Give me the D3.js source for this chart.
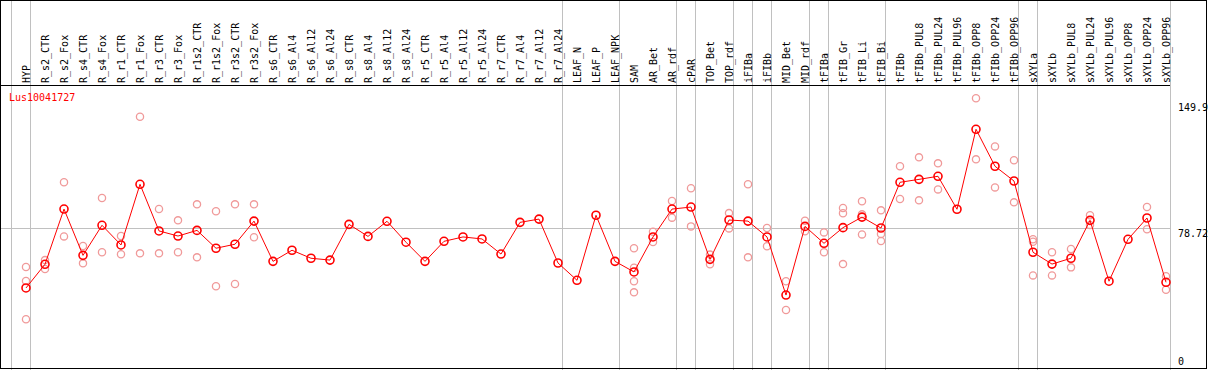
<!DOCTYPE html>
<html>
<head>
<meta charset="utf-8">
<script src="https://cdn.jsdelivr.net/npm/d3@7/dist/d3.min.js"></script>
<style>
    body { margin: 0; background: #fff; }
    #chart-container { width: 1209px; height: 370px; }
</style>
</head>
<body>
<div id="chart-container"></div>
<script>
const geneName = "Lus10041727";

const samples = [
    "HYP", "R_s2_CTR", "R_s2_Fox", "R_s4_CTR", "R_s4_Fox", "R_r1_CTR", "R_r1_Fox",
    "R_r3_CTR", "R_r3_Fox", "R_r1s2_CTR", "R_r1s2_Fox", "R_r3s2_CTR", "R_r3s2_Fox",
    "R_s6_CTR", "R_s6_Al4", "R_s6_Al12", "R_s6_Al24", "R_s8_CTR", "R_s8_Al4", "R_s8_Al12",
    "R_s8_Al24", "R_r5_CTR", "R_r5_Al4", "R_r5_Al12", "R_r5_Al24", "R_r7_CTR", "R_r7_Al4",
    "R_r7_Al12", "R_r7_Al24", "LEAF_N", "LEAF_P", "LEAF_NPK", "SAM", "AR_Bet", "AR_rdf",
    "cPAR", "TOP_Bet", "TOP_rdf", "iFIBa", "iFIBb", "MID_Bet", "MID_rdf", "tFIBa",
    "tFIB_Gr", "tFIB_Li", "tFIB_Bi", "tFIBb", "tFIBb_PUL8", "tFIBb_PUL24", "tFIBb_PUL96",
    "tFIBb_OPP8", "tFIBb_OPP24", "tFIBb_OPP96", "sXYLa", "sXYLb", "sXYLb_PUL8",
    "sXYLb_PUL24", "sXYLb_PUL96", "sXYLb_OPP8", "sXYLb_OPP24", "sXYLb_OPP96"
];

// mean expression per sample
const means = [
    45.8, 58.8, 89.1, 63.7, 80.2, 69.4, 102.7, 77.1, 74.3, 77.4, 67.6, 69.8, 82.5,
    60.4, 66.5, 62.1, 61.1, 80.7, 74.1, 82.4, 70.9, 60.4, 71.4, 73.8, 72.7, 64.4, 81.8,
    83.6, 59.5, 50.0, 85.7, 60.4, 54.6, 73.8, 89.1, 90.2, 61.5, 83.1, 82.5, 73.8, 41.9,
    79.6, 70.3, 78.9, 84.7, 78.7, 103.8, 105.4, 107.1, 89.0, 132.9, 112.6, 104.5, 65.4,
    58.9, 62.1, 82.9, 49.5, 72.5, 84.2, 48.9
];

// replicate values per sample
const replicates = [
    [57.3, 49.6, 28.6], [61.1, 56.2], [103.8, 74.1], [68.8, 59.3], [95.2, 65.4],
    [74.3, 64.3], [139.8, 64.8], [89.1, 64.8], [82.9, 65.4], [91.7, 62.6], [87.9, 46.7],
    [91.7, 48.0], [91.7, 73.6],
    [], [], [], [], [], [], [], [], [], [], [], [], [], [], [], [], [], [], [],
    [67.6, 56.9, 49.5, 43.4], [76.7, 71.0], [93.5, 84.4], [100.5, 79.6], [64.1, 58.8],
    [86.9, 78.5], [102.7, 62.6], [78.7, 68.7], [49.5, 33.7], [82.7, 76.9], [76.3, 65.4],
    [89.7, 86.8, 58.9], [93.4, 86.2, 75.2], [88.4, 75.4, 71.6], [112.6, 94.6],
    [117.5, 93.9], [114.2, 99.9], [], [149.9, 116.4], [123.5, 101.0], [115.9, 92.8],
    [72.5, 71.2, 52.7], [65.4, 52.7], [67.2, 57.1], [85.7, 80.4], [], [], [90.2, 78.0],
    [52.2, 44.8]
];

// last sample of each tissue group
const groupEnds = ["HYP", "R_r7_Al24", "LEAF_NPK", "AR_rdf", "cPAR", "TOP_rdf", "iFIBa",
    "iFIBb", "MID_rdf", "tFIBa", "tFIB_Bi", "tFIBb_OPP96", "sXYLa", "sXYLb_OPP96"];

const yTicks = [149.9, 78.72, 0];
const yMax = 149.9;

const width = 1209;
const height = 370;
const font = "'DejaVu Sans Mono', monospace";

const svg = d3
    .select("#chart-container")
    .append("svg")
    .attr("width", width)
    .attr("height", height);

const x = d3.scalePoint().domain(samples).range([26, 1166]);
const step = x.step();
const y = d3.scaleLinear().domain([0, yMax]).range([371.4, 98.3]);
const plotRight = x(samples[samples.length - 1]) + 4;

// vertical group separators
const sepX = [x(samples[0]) - step + 4].concat(groupEnds.map(d => x(d) + 4));
svg.append("g")
    .selectAll("line")
    .data(sepX)
    .enter()
    .append("line")
    .attr("x1", d => Math.round(d) + 0.5)
    .attr("x2", d => Math.round(d) + 0.5)
    .attr("y1", 0)
    .attr("y2", height)
    .attr("stroke", "#c0c0c0")
    .attr("stroke-width", 1);

// horizontal grid at middle tick
svg.append("line")
    .attr("x1", 0)
    .attr("x2", plotRight)
    .attr("y1", Math.round(y(yTicks[1])) + 0.5)
    .attr("y2", Math.round(y(yTicks[1])) + 0.5)
    .attr("stroke", "#c0c0c0")
    .attr("stroke-width", 1);

// frame and header line
svg.append("rect")
    .attr("x", 0.5)
    .attr("y", 0.5)
    .attr("width", 1206)
    .attr("height", 368)
    .attr("fill", "none")
    .attr("stroke", "#000")
    .attr("stroke-width", 1);

svg.append("line")
    .attr("x1", 0)
    .attr("x2", plotRight)
    .attr("y1", 85.5)
    .attr("y2", 85.5)
    .attr("stroke", "#000")
    .attr("stroke-width", 1);

// sample labels
svg.append("g")
    .selectAll("text")
    .data(samples)
    .enter()
    .append("text")
    .attr("transform", d => `translate(${x(d) + 4},83) rotate(-90)`)
    .attr("font-family", font)
    .attr("font-size", "10px")
    .attr("fill", "#000")
    .text(d => d);

// y labels on the right
svg.append("g")
    .selectAll("text")
    .data(yTicks)
    .enter()
    .append("text")
    .attr("x", 1178)
    .attr("y", d => Math.max(111, Math.min(365, y(d) + 9)))
    .attr("font-family", font)
    .attr("font-size", "10px")
    .attr("fill", "#000")
    .text(d => d);

svg.append("text")
    .attr("x", 9)
    .attr("y", 101)
    .attr("font-family", font)
    .attr("font-size", "10px")
    .attr("fill", "#ff0000")
    .text(geneName);

// replicate points
const reps = [];
samples.forEach((s, i) => {
    replicates[i].forEach(v => reps.push({ s, v }));
});

svg.append("g")
    .selectAll("circle")
    .data(reps)
    .enter()
    .append("circle")
    .attr("cx", d => x(d.s))
    .attr("cy", d => y(d.v))
    .attr("r", 3.6)
    .attr("fill", "none")
    .attr("stroke", "#f09a9a")
    .attr("stroke-width", 1.3);

// mean line
const line = d3.line()
    .x((d, i) => x(samples[i]))
    .y(d => y(d));

svg.append("path")
    .datum(means)
    .attr("d", line)
    .attr("fill", "none")
    .attr("stroke", "#ff0000")
    .attr("stroke-width", 1);

svg.append("g")
    .selectAll("circle")
    .data(means)
    .enter()
    .append("circle")
    .attr("cx", (d, i) => x(samples[i]))
    .attr("cy", d => y(d))
    .attr("r", 4)
    .attr("fill", "none")
    .attr("stroke", "#ff0000")
    .attr("stroke-width", 1.6);
</script>
</body>
</html>
